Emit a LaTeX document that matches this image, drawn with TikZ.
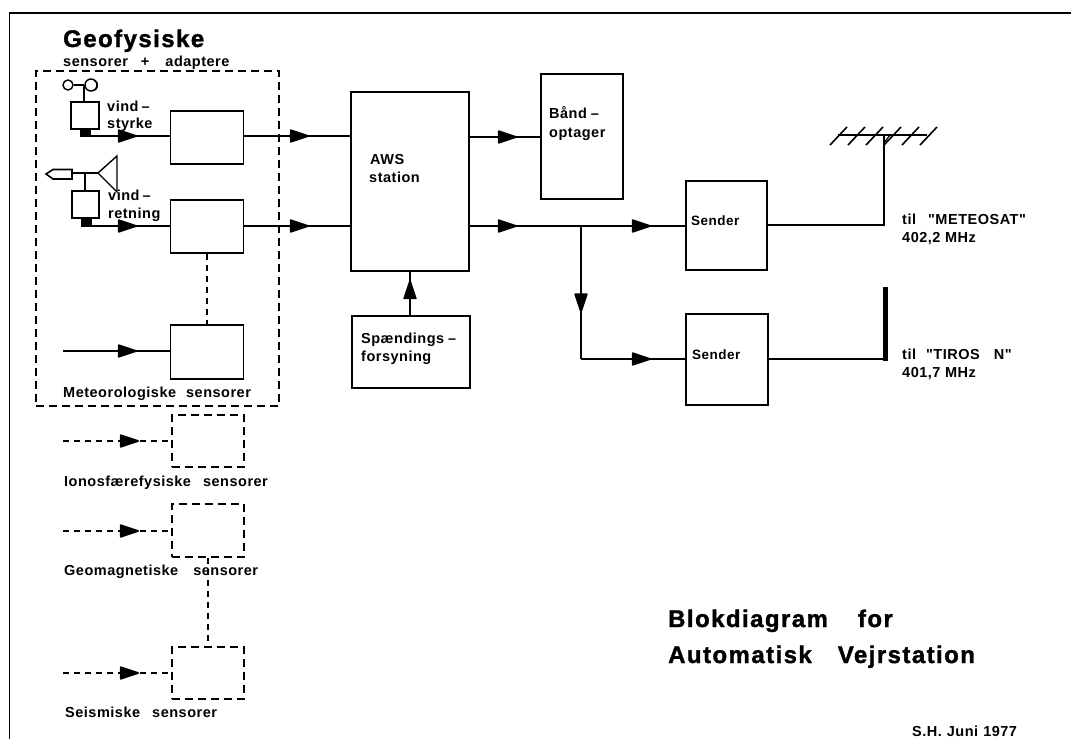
\documentclass[tikz,border=0pt]{standalone}
\usepackage{fontspec}
\setmainfont{Liberation Sans}
\newfontfamily\lblfont[LetterSpace=3.5]{Liberation Sans Bold}
\newfontfamily\ttlfont[LetterSpace=6,FakeBold=1.5]{Liberation Sans Bold}
\usetikzlibrary{arrows.meta,decorations.markings}
\tikzset{
  box/.style={draw,line width=1.7pt,inner sep=0pt},
  dbox/.style={draw,line width=1.7pt,inner sep=0pt,dash pattern=on 8pt off 5pt},
  solidfoot/.style={fill=black,inner sep=0pt},
  wire/.style={line width=1.7pt},
  dwire/.style={line width=1.7pt,dash pattern=on 6pt off 5pt},
  arrowat/.style={postaction={decorate,decoration={markings,mark=at position #1 with {\arrow{Triangle[length=21pt,width=13.5pt,round]}}}}},
  lbl/.style={anchor=base west,inner sep=0pt,font=\lblfont\fontsize{14.5pt}{16pt}\selectfont},
  snd/.style={anchor=base west,inner sep=0pt,font=\lblfont\fontsize{13.5pt}{16pt}\selectfont},
  big/.style={anchor=base west,inner sep=0pt,font=\ttlfont\fontsize{24pt}{26pt}\selectfont},
}
\begin{document}
\begin{tikzpicture}[x=1pt,y=-1pt]
\useasboundingbox (0,0) rectangle (1071,739);
% frame
\coordinate (ftl) at (9.5,13); \coordinate (ftr) at (1071,13); \coordinate (fbl) at (9.5,739);
\draw[line width=1.8pt] (fbl) -- (ftl) -- (ftr);
% geophysical enclosure
\node[dbox,minimum width=243pt,minimum height=335pt] (encl) at (157.5,238.5) {};
% boxes
\node[box,minimum width=73pt,minimum height=53pt] (b1) at (207,137.5) {};
\node[box,minimum width=73pt,minimum height=53pt] (b2) at (207,226.5) {};
\node[box,minimum width=73pt,minimum height=54pt] (b3) at (207,352) {};
\node[dbox,minimum width=72pt,minimum height=52pt] (d1) at (208,441) {};
\node[dbox,minimum width=72pt,minimum height=53pt] (d2) at (208,530.5) {};
\node[dbox,minimum width=72pt,minimum height=52pt] (d3) at (208,673) {};
\node[box,minimum width=118pt,minimum height=179pt] (aws) at (410,181.5) {};
\node[box,minimum width=82pt,minimum height=125pt] (tape) at (582,136.5) {};
\node[box,minimum width=118pt,minimum height=72pt] (psu) at (411,352) {};
\node[box,minimum width=81pt,minimum height=89pt] (s1) at (726.5,225.5) {};
\node[box,minimum width=82pt,minimum height=91pt] (s2) at (727,359.5) {};
% sensors
\node[box,minimum width=28pt,minimum height=27pt] (w1) at (85,115.5) {};
\node[solidfoot,minimum width=11pt,minimum height=8pt] (f1) at (85.5,133) {};
\node[box,minimum width=27pt,minimum height=27pt] (w2) at (85.5,204.5) {};
\node[solidfoot,minimum width=11pt,minimum height=8pt] (f2) at (86.5,222.5) {};
% anemometer
\node[draw,circle,line width=1.4pt,minimum size=10pt,inner sep=0pt] (cup1) at (68,85) {};
\node[draw,circle,line width=1.4pt,minimum size=12pt,inner sep=0pt] (cup2) at (91,85) {};
\draw[line width=1.2pt] (94,80) arc[start angle=70,end angle=-70,radius=5.5pt];
\draw[wire] (cup1.east) -- (cup2.west);
\coordinate (st1) at (84,85);
\draw[line width=1.4pt] (st1) -- (st1 |- w1.north);
% wind vane
\coordinate (vt) at (98,173); \coordinate (vb) at (85,173);
\draw[line width=1.6pt] (46,174) -- (53,169.5) -- (72,169.5) -- (72,179) -- (53,179) -- cycle;
\draw[line width=1.4pt] (72,173) -- (vt);
\draw[line width=1.4pt] (vb) -- (vb |- w2.north);
\draw[line width=1.4pt] (117,156) -- (vt) -- (117,192) -- cycle;
% signal wires
\coordinate (o1) at (91,136); \coordinate (o2) at (92,226); \coordinate (o3) at (63,351);
\draw[wire,arrowat=46pt] (o1) -- (o1 -| b1.west);
\draw[wire,arrowat=45pt] (o2) -- (o2 -| b2.west);
\draw[wire,arrowat=74pt] (o3) -- (o3 -| b3.west);
\coordinate (i1) at (243,136); \coordinate (i2) at (243,226);
\draw[wire,arrowat=66pt] (i1) -- (i1 -| aws.west);
\draw[wire,arrowat=66pt] (i2) -- (i2 -| aws.west);
\draw[dwire] (b2.south) -- (b3.north);
\coordinate (p1) at (63,441); \coordinate (p2) at (63,531); \coordinate (p3) at (63,673);
\draw[dwire,arrowat=76pt] (p1) -- (p1 -| d1.west);
\draw[dwire,arrowat=76pt] (p2) -- (p2 -| d2.west);
\draw[dwire,arrowat=76pt] (p3) -- (p3 -| d3.west);
\draw[dwire] (d2.south) -- (d3.north);
% station outputs
\coordinate (a1) at (469,137); \coordinate (a2) at (469,226);
\draw[wire,arrowat=48pt] (a1) -- (a1 -| tape.west);
\draw[wire,arrowat=48pt,arrowat=182pt] (a2) -- (a2 -| s1.west);
\coordinate (bj) at (581,226); \coordinate (bk) at (581,359);
\draw[wire,arrowat=86.5pt] (bj) -- (bk);
\draw[wire,arrowat=70pt] (bk) -- (bk -| s2.west);
\coordinate (pu) at (410,271);
\draw[wire,arrowat=35pt] (pu |- psu.north) -- (pu);
% antennas
\coordinate (e1) at (767,225); \coordinate (c1) at (884,225); \coordinate (c0) at (884,135);
\coordinate (ant1) at (838,135); \coordinate (ant2) at (927,135);
\draw[wire] (e1) -- (c1) -- (c0);
\draw[line width=1.6pt] (ant1) -- (ant2);
\foreach \i in {0,...,5} \draw[line width=1.6pt] ({830+18*\i},145) -- ({847+18*\i},127);
\draw[line width=1.2pt] (890,135) -- (884,143);
\coordinate (e2) at (768,359); \coordinate (c2) at (885.5,359); \coordinate (c3) at (885.5,287);
\draw[wire] (e2) -- (c2);
\draw[line width=5.5pt] (885.5,361) -- (c3);
% texts
\node[big] (t1) at (63,47) {Geofysiske};
\node[lbl] (t2) at (63,66.5) {sensorer\hspace{13pt}+\hspace{16pt}adaptere};
\node[lbl] (t3) at (107,111) {vind\hspace{3pt}–};
\node[lbl] (t4) at (107,128) {styrke};
\node[lbl] (t5) at (108,200) {vind\hspace{3pt}–};
\node[lbl] (t6) at (108,218) {retning};
\node[lbl] (t7) at (63,397) {Meteorologiske\hspace{10pt}sensorer};
\node[lbl] (t8) at (64,486) {Ionosfærefysiske\hspace{12pt}sensorer};
\node[lbl] (t9) at (64,575) {Geomagnetiske\hspace{15pt}sensorer};
\node[lbl] (t10) at (65,717) {Seismiske\hspace{12pt}sensorer};
\node[lbl] (t11) at (370,164) {AWS};
\node[lbl] (t12) at (369,182) {station};
\node[lbl] (t13) at (549,118) {Bånd\hspace{4pt}–};
\node[lbl] (t14) at (549,137) {optager};
\node[lbl] (t15) at (361,343) {Spændings\hspace{4pt}–};
\node[lbl] (t16) at (361,361) {forsyning};
\node[snd] (t17) at (691,225) {Sender};
\node[snd] (t18) at (692,359) {Sender};
\node[lbl] (t19) at (902,224) {til\hspace{12pt}"METEOSAT"};
\node[lbl] (t20) at (902,242) {402,2 MHz};
\node[lbl] (t21) at (902,359) {til\hspace{10pt}"TIROS\hspace{14pt}N"};
\node[lbl] (t22) at (902,377) {401,7 MHz};
\node[big] (t23) at (668,627) {Blokdiagram\hspace{30pt}for};
\node[big] (t24) at (668,663) {Automatisk\hspace{26pt}Vejrstation};
\node[lbl] (t25) at (912,736) {S.H.\hspace{5pt}Juni\hspace{5pt}1977};
\end{tikzpicture}
\end{document}
